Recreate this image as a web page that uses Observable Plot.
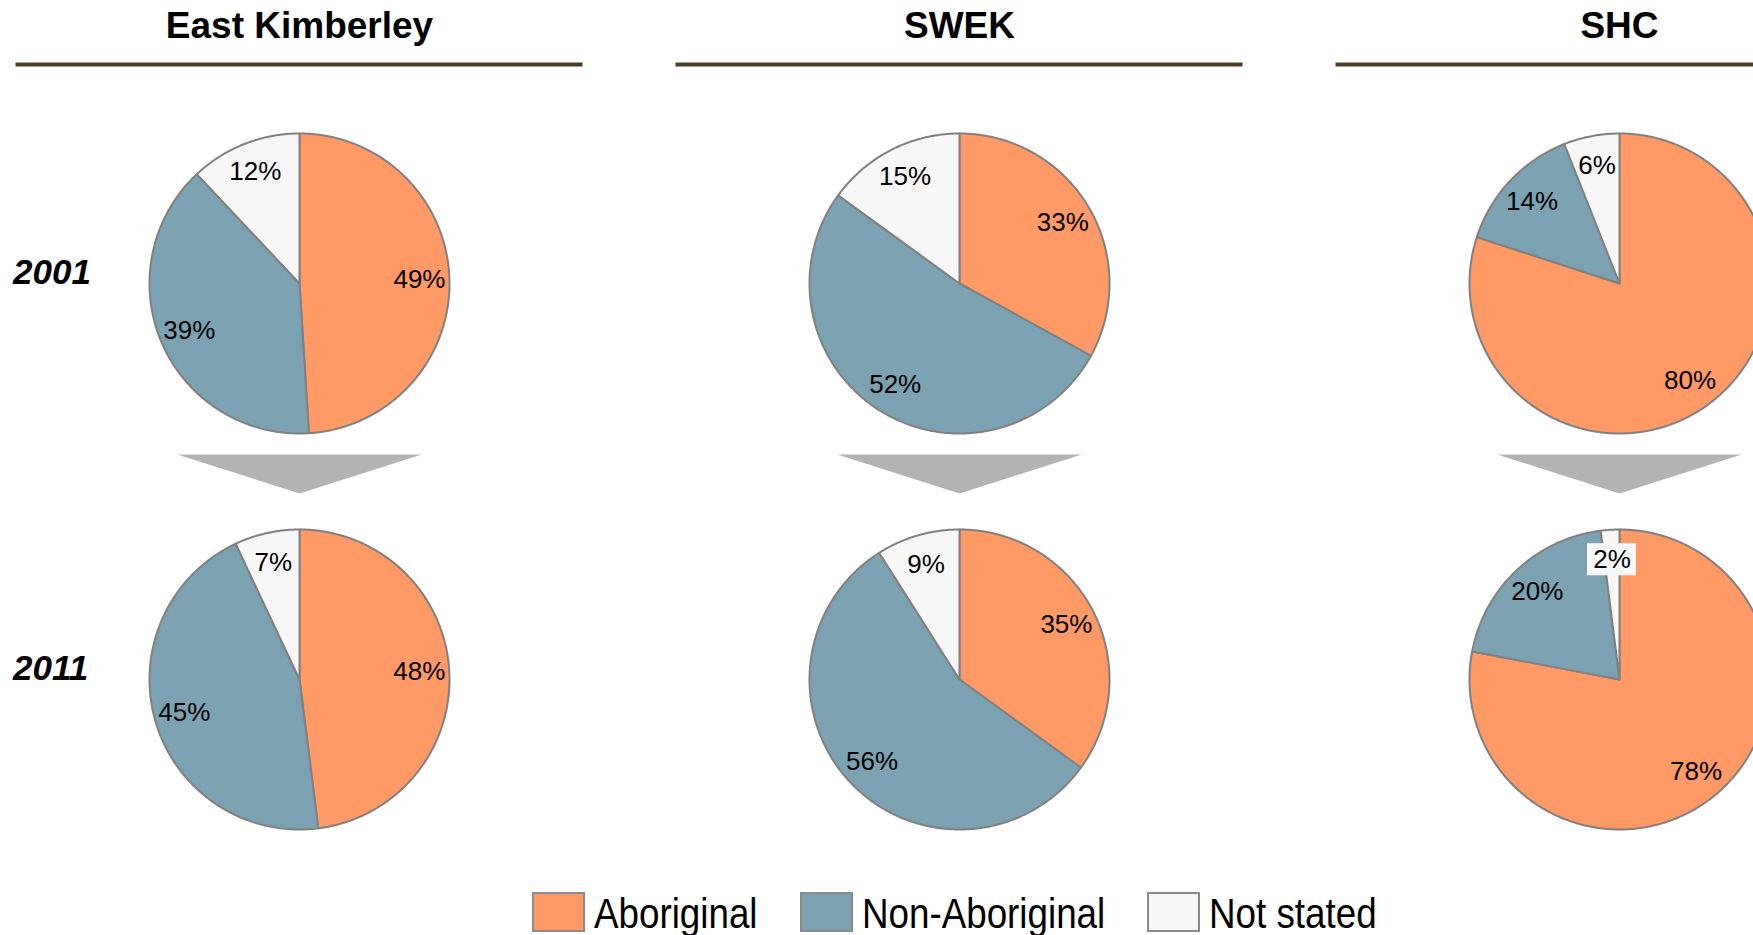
<!DOCTYPE html>
<html><head><meta charset="utf-8">
<script src="https://cdn.jsdelivr.net/npm/d3@7"></script>
<script src="https://cdn.jsdelivr.net/npm/@observablehq/plot@0.6"></script>
<style>
body{margin:0;background:#fff;font-family:"Liberation Sans",Arial,sans-serif;}
#chart svg{display:block;}
.legend{display:flex;align-items:flex-start;padding:14px 0 0 532px;height:43px;overflow:hidden;box-sizing:content-box}
.item{display:flex;align-items:flex-start;margin-right:42px}
.sw{width:49px;height:36px;border:2px solid #8a8a8a;margin-right:9px;flex:none}
.lab{display:inline-block;font-size:43px;line-height:43px;font-family:"Liberation Sans",Arial,sans-serif;color:#000;white-space:nowrap;transform-origin:0 50%;transform:scaleX(0.855)}
</style></head>
<body><div id="chart"></div><div class="legend" id="legend"></div>
<script>
// ---- data ----
const regions = ["East Kimberley", "SWEK", "SHC"];
const years = ["2001", "2011"];
const categories = ["Aboriginal", "Non-Aboriginal", "Not stated"];
const colors = ["#ff9966", "#7aa2b2", "#f7f7f7"];

const aboriginal2001 = [49, 33, 80];
const nonAboriginal2001 = [39, 52, 14];
const notStated2001 = [12, 15, 6];

const aboriginal2011 = [48, 35, 78];
const nonAboriginal2011 = [45, 56, 20];
const notStated2011 = [7, 9, 2];

const shares = {
  "2001": [aboriginal2001, nonAboriginal2001, notStated2001],
  "2011": [aboriginal2011, nonAboriginal2011, notStated2011]
};

// ---- geometry (unit circle) ----
const yDomain = [-1.18, 1.46];
const xHalf = 1.89;
const labelRadius = 0.8;

const pts = [];
const labels = [];
years.forEach(yr => regions.forEach((rg, ri) => {
  const vals = shares[yr].map(s => s[ri]);
  const total = d3.sum(vals);
  let a = 0;
  vals.forEach((v, ci) => {
    const a0 = a, a1 = a + v / total * 2 * Math.PI; a = a1;
    const key = rg + "|" + yr + "|" + ci;
    const base = {key, region: rg, year: yr, category: categories[ci]};
    pts.push({...base, x: 0, y: 0});
    const n = Math.max(2, Math.ceil((a1 - a0) / (Math.PI / 360)));
    for (let k = 0; k <= n; k++) {
      const t = a0 + (a1 - a0) * k / n;
      pts.push({...base, x: Math.sin(t), y: Math.cos(t)});
    }
    pts.push({...base, x: 0, y: 0});
    const m = (a0 + a1) / 2;
    labels.push({region: rg, year: yr, value: v, text: v + "%",
      x: labelRadius * Math.sin(m), y: labelRadius * Math.cos(m)});
  });
}));

// down-arrow shape between the two rows (in pie-radius units, relative to the 2001 pie)
const arrowShape = [[-0.815, -1.14], [0.815, -1.14], [0, -1.40]];
const arrowPts = regions.flatMap(rg => arrowShape.map(([x, y]) => ({region: rg, year: years[0], x, y})));

const small = labels.filter(d => d.value < 5);

const chart = Plot.plot({
  width: 1753,
  height: 878,
  marginTop: 0, marginRight: 0, marginBottom: 0, marginLeft: 0,
  fx: {domain: regions, range: [15.5, 1902.5], paddingInner: 0.1409, paddingOuter: 0, round: false, axis: null},
  fy: {domain: years, range: [64, 856], paddingInner: 0, paddingOuter: 0, round: false, axis: null},
  x: {domain: [-xHalf, xHalf], axis: null},
  y: {domain: yDomain, axis: null},
  color: {domain: categories, range: colors},
  style: {fontFamily: "'Liberation Sans', Arial, sans-serif", background: "white", overflow: "visible"},
  marks: [
    Plot.ruleY(regions, {fx: d => d, fy: () => years[0], y: () => yDomain[1], stroke: "#4b3c26", strokeWidth: 4}),
    Plot.text(regions, {fx: d => d, fy: () => years[0], frameAnchor: "top", lineAnchor: "bottom", dy: -27,
      text: d => d, fontSize: 37, fontWeight: "bold", fill: "#000"}),
    Plot.line(arrowPts, {x: "x", y: "y", z: "region", fx: "region", fy: "year", fill: "#b3b3b3", stroke: "none"}),
    Plot.line(pts, {x: "x", y: "y", z: "key", fill: "category", stroke: "#808080", strokeWidth: 2,
      strokeLinejoin: "round", fx: "region", fy: "year"}),
    Plot.rect(small, {x1: d => d.x - 0.163, x2: d => d.x + 0.163, y1: d => d.y - 0.107, y2: d => d.y + 0.107,
      fill: "#f7f7f7", fx: "region", fy: "year"}),
    Plot.text(labels, {x: "x", y: "y", text: "text", fx: "region", fy: "year", fontSize: 26, fill: "#000"}),
    Plot.text(years, {fx: () => regions[0], fy: d => d, y: () => 0, frameAnchor: "left", textAnchor: "start",
      dx: -3, dy: -11, text: d => d, fontSize: 35, fontWeight: "bold", fontStyle: "italic", fill: "#000"})
  ]
});
document.getElementById("chart").appendChild(chart);

const legend = document.getElementById("legend");
const squeeze = 0.855;
categories.forEach((c, i) => {
  const item = document.createElement("div");
  item.className = "item";
  const sw = document.createElement("div");
  sw.className = "sw";
  sw.style.background = colors[i];
  const lab = document.createElement("span");
  lab.className = "lab";
  lab.textContent = c;
  item.appendChild(sw);
  item.appendChild(lab);
  legend.appendChild(item);
  const w = lab.getBoundingClientRect().width / squeeze;
  lab.style.marginRight = (-(1 - squeeze) * w) + "px";
});
</script></body></html>
